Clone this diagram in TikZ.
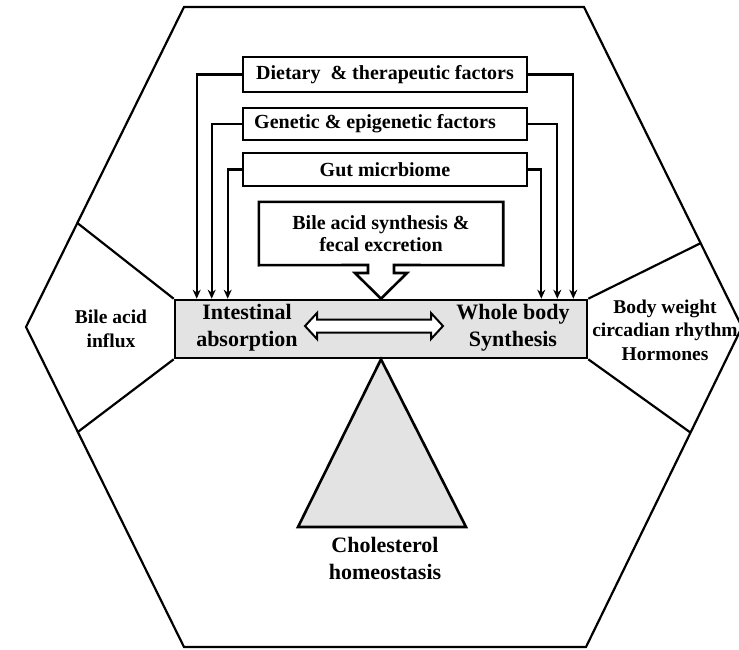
\documentclass[tikz,border=0pt]{standalone}
\usepackage{fontspec}
\setmainfont{Liberation Serif}
\usetikzlibrary{arrows.meta,calc}
\begin{document}
\begin{tikzpicture}[x=1pt,y=-1pt,line join=miter,
  hexline/.style={line width=2.2pt},
  factorbox/.style={draw,line width=2.6pt,minimum width=284pt,inner sep=0pt,
    font=\bfseries\fontsize{20}{22}\selectfont},
  link/.style={line width=2.1pt,-{Stealth[length=9pt,width=8pt]}},
  bigtxt/.style={align=center,inner sep=0pt,font=\bfseries\fontsize{22}{27}\selectfont},
  sidetxt/.style={align=center,inner sep=0pt,font=\bfseries\fontsize{19.5}{23.5}\selectfont},
  greyfill/.style={fill=black!11}]
\clip (0,0) rectangle (739,650);
\fill[white] (0,0) rectangle (739,650);
% hexagon
\coordinate (hTL) at (184,7);
\coordinate (hTR) at (584,7);
\coordinate (hR) at (742,327);
\coordinate (hBR) at (586,647);
\coordinate (hBL) at (184,647);
\coordinate (hL) at (26,327);
\draw[hexline] (hTL) -- (hTR) -- (hR) -- (hBR) -- (hBL) -- (hL) -- cycle;
\coordinate (pUL) at ($(hTL)!0.675!(hL)$);
\coordinate (pLL) at ($(hL)!0.328!(hBL)$);
\coordinate (pUR) at ($(hTR)!0.738!(hR)$);
\coordinate (pLR) at ($(hR)!0.33!(hBR)$);
% central bar
\node[draw,greyfill,line width=2.6pt,minimum width=412pt,minimum height=58pt,inner sep=0pt] (bar) at (381,329) {};
\draw[hexline] (pUL) -- (bar.north west);
\draw[hexline] (pLL) -- (bar.south west);
\draw[hexline] (pUR) -- (bar.north east);
\draw[hexline] (pLR) -- (bar.south east);
\node[bigtxt] (intab) at (247,328) {Intestinal\\absorption};
\node[bigtxt] (wbs) at (513,328) {Whole body\\Synthesis};
% double arrow
\draw[line width=2pt,fill=white] (305,326) -- (317,313) -- (317,319.5) -- (431,319.5) -- (431,313)
  -- (443,326) -- (431,339) -- (431,332.5) -- (317,332.5) -- (317,339) -- cycle;
% side labels
\node[sidetxt] (influx) at (111,329) {Bile acid\\influx};
\node[sidetxt] (bw) at (665,330) {Body weight\\circadian rhythm\\Hormones};
% factor boxes
\node[factorbox,minimum height=35pt] (diet) at (385,74.5) {Dietary~ \& therapeutic factors};
\node[factorbox,minimum height=32pt] (gen) at (385,124) {Genetic \& epigenetic factors\hspace*{20pt}};
\node[factorbox,minimum height=33pt] (gut) at (385,169.5) {Gut micrbiome};
% bile acid synthesis box with block arrow
\node[minimum width=244pt,minimum height=63pt,inner sep=0pt,align=center,
  font=\bfseries\fontsize{20}{21.6}\selectfont] (bile) at (381,233.5) {Bile acid synthesis \&\\fecal excretion};
\draw[line width=2.6pt] (bile.south west) -- (bile.north west) -- (bile.north east) -- (bile.south east)
  -- (394,265) -- (394,273) -- (407,273) -- (bar.north) -- (355,273) -- (368,273) -- (368,265) -- cycle;
% connectors
\coordinate (l1) at ([xshift=23pt]bar.north west);
\coordinate (l2) at ([xshift=38pt]bar.north west);
\coordinate (l3) at ([xshift=54pt]bar.north west);
\coordinate (r1) at ([xshift=-15pt]bar.north east);
\coordinate (r2) at ([xshift=-31pt]bar.north east);
\coordinate (r3) at ([xshift=-47pt]bar.north east);
\draw[link] (diet.west) -| (l1);
\draw[link] (gen.west) -| (l2);
\draw[link] (gut.west) -| (l3);
\draw[link] (diet.east) -| (r1);
\draw[link] (gen.east) -| (r2);
\draw[link] (gut.east) -| (r3);
% triangle
\draw[line width=2.6pt,greyfill] (bar.south) -- (298,527) -- (466,527) -- cycle;
\node[bigtxt] (chol) at (385,558.5) {Cholesterol\\homeostasis};
\end{tikzpicture}
\end{document}
